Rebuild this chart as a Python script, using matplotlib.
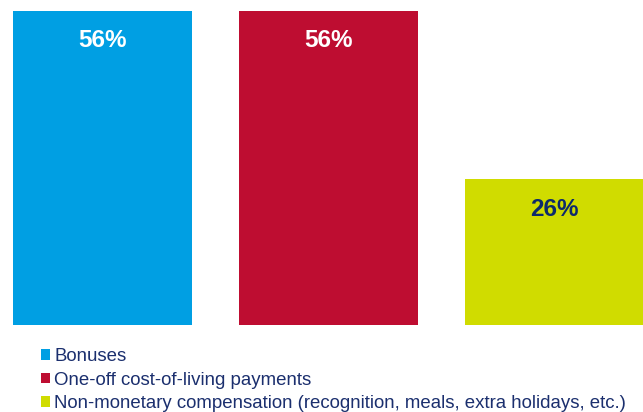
import matplotlib
matplotlib.use("Agg")
import matplotlib.pyplot as plt
from matplotlib.patches import Patch

categories = ["Bonuses", "One-off cost-of-living payments",
              "Non-monetary compensation (recognition, meals, extra holidays, etc.)"]
values = [56, 56, 26]
value_labels = ["56%", "56%", "26%"]
colors = ["#009fe3", "#be0d31", "#d0dc00"]
label_colors = ["white", "white", "#0d2a6b"]
text_color = "#1b2f6e"

plt.rcParams["font.family"] = ["Liberation Sans", "DejaVu Sans"]

W, H = 643, 412
fig = plt.figure(figsize=(W / 100, H / 100), dpi=100)
ax = fig.add_axes([0, 87 / H, 1, 314 / H])

x = list(range(len(values)))
bars = ax.bar(x, values, width=0.792, color=colors, clip_on=False)
ax.set_xlim(-0.4535, 2.3916)
ax.set_ylim(0, 56)
ax.axis("off")

for xi, v, lab, c in zip(x, values, value_labels, label_colors):
    ax.annotate(lab, xy=(xi, v), xytext=(0, -21.5), textcoords="offset points",
                ha="center", va="center", fontsize=17.5, fontweight="bold", color=c)

handles = [Patch(facecolor=c, edgecolor="none") for c in colors]
leg = fig.legend(handles, categories, loc="upper left",
                 bbox_to_anchor=(41 / W, 1 - 348 / H),
                 frameon=False, fontsize=13.4, labelcolor=text_color,
                 handlelength=0.5, handleheight=0.5, handletextpad=0.22,
                 labelspacing=0.36, borderaxespad=0, borderpad=0)

fig.savefig("out.png", dpi=100)
